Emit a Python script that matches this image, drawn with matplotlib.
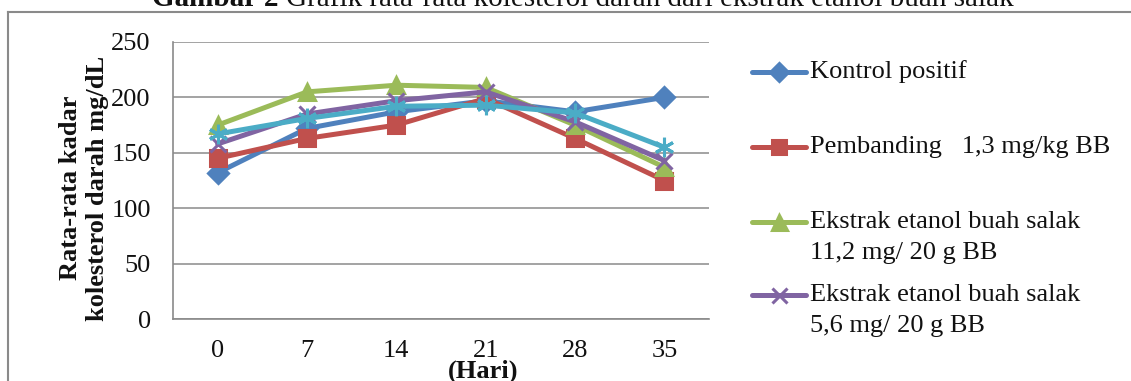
import matplotlib
matplotlib.use("Agg")
import matplotlib.pyplot as plt
from matplotlib.lines import Line2D

days = ["0", "7", "14", "21", "28", "35"]
kontrol = [132, 172, 187, 197, 187, 200]
pembanding = [145, 163, 175, 199, 163, 125]
ekstrak_11 = [175, 205, 211, 209, 175, 137]
ekstrak_56 = [158, 185, 197, 205, 178, 143]
ekstrak_x = [167, 181, 192, 193, 186, 155]

labels = ["Kontrol positif", "Pembanding   1,3 mg/kg BB",
          "Ekstrak etanol buah salak\n11,2 mg/ 20 g BB",
          "Ekstrak etanol buah salak\n5,6 mg/ 20 g BB"]

plt.rcParams['font.family'] = ['Liberation Serif', 'DejaVu Serif']

W, H = 1131, 381
FS = 19
fig = plt.figure(figsize=(W / 100, H / 100), dpi=100)

def fx(px):
    return px / W

def fy(py):
    return 1 - py / H

ax = fig.add_axes([fx(173), fy(319), fx(709) - fx(173), fy(42) - fy(319)])

series = [
    (kontrol, "#4F81BD", "D", 10),
    (pembanding, "#C0504D", "s", 11),
    (ekstrak_11, "#9BBB59", "^", 12),
    (ekstrak_56, "#8064A2", "x", 12),
    (ekstrak_x, "#4BACC6", (6, 2, 0), 14),
]
xs = list(range(len(days)))
for vals, col, mk, ms in series:
    ax.plot(xs, vals, color=col, lw=3.6, marker=mk, ms=ms,
            markeredgecolor=col, markerfacecolor=col, mew=2.2,
            solid_capstyle='round', zorder=3)

ax.set_xlim(-0.5, len(days) - 0.5)
ax.set_ylim(0, 250)
ax.set_yticks([0, 50, 100, 150, 200, 250])
ax.set_xticks(xs)
ax.set_xticklabels(days)
ax.tick_params(axis='both', length=0, labelsize=FS, colors='#111111')
ax.tick_params(axis='y', pad=16)
ax.tick_params(axis='x', pad=15)
ax.grid(axis='y', color='#8a8a8a', lw=1.1)
ax.set_axisbelow(True)
for s in ['top', 'right']:
    ax.spines[s].set_visible(False)
for s in ['left', 'bottom']:
    ax.spines[s].set_color('#8a8a8a')
    ax.spines[s].set_linewidth(1.2)

# axis labels
fig.text(fx(84), fy(188), "Rata-rata kadar\nkolesterol darah mg/dL", rotation=90,
         ha='center', va='center', fontsize=FS, fontweight='bold',
         multialignment='center', linespacing=1.17, color='#111111')
fig.text(fx(483), fy(371), "(Hari)", ha='center', va='center',
         fontsize=FS, fontweight='bold', color='#111111')

# title (cut at top)
TFS = 21
t1 = fig.text(fx(152), fy(6), "Gambar 2 ", ha='left', va='baseline',
              fontsize=TFS, fontweight='bold', color='#111111')
fig.canvas.draw()
bb = t1.get_window_extent()
fig.text(bb.x1 / fig.bbox.width, fy(6),
         "Grafik rata-rata kolesterol darah dari ekstrak etanol buah salak",
         ha='left', va='baseline', fontsize=TFS, color='#111111')

# outer frame
fig.add_artist(Line2D([fx(8), fx(8)], [fy(12), fy(381)], color='#8a8a8a', lw=1.5))
fig.add_artist(Line2D([fx(8), fx(1131)], [fy(12), fy(12)], color='#8a8a8a', lw=1.5))

# legend drawn manually
leg_y = [72, 147, 222, 295]
for (vals, col, mk, ms), lab, yy in zip(series[:4], labels, leg_y):
    fig.add_artist(Line2D([fx(752), fx(806)], [fy(yy), fy(yy)], color=col, lw=3.6,
                          solid_capstyle='round'))
    fig.add_artist(Line2D([fx(779)], [fy(yy)], color=col, marker=mk, ms=ms * 0.9,
                          markeredgecolor=col, markerfacecolor=col, mew=2.2, lw=0))
    lines = lab.split("\n")
    for i, ln in enumerate(lines):
        fig.text(fx(810), fy(yy + 31 * i), ln, ha='left', va='center',
                 fontsize=FS, color='#111111')

fig.savefig("out.png", dpi=100)
